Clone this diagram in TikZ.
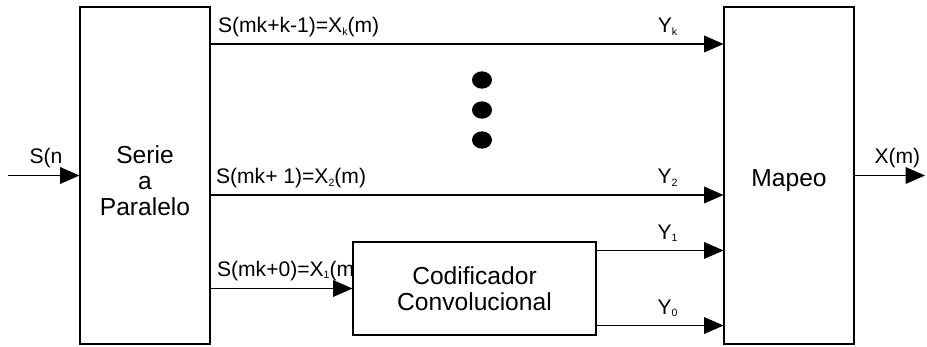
\documentclass[tikz,border=0pt]{standalone}
\usepackage{fontspec}
\setmainfont{Liberation Sans}
\usetikzlibrary{arrows.meta,calc,positioning}

\newcommand{\sub}[1]{\raisebox{-0.2ex}{\fontsize{9}{9}\selectfont #1}}

\begin{document}
\begin{tikzpicture}[x=0.03cm,y=-0.03cm,line width=0.9pt,
    >={Triangle[length=0.58cm,width=0.5cm]},
    font=\fontsize{18}{22}\selectfont,
    block/.style={draw,rectangle,align=center,inner sep=0pt,font=\fontsize{21}{22.5}\selectfont},
    blocktext/.style={align=center,inner sep=0pt,font=\fontsize{21}{22.5}\selectfont,yshift=-0.16cm},
    lbl/.style={inner sep=0pt,anchor=base west},
    ylbl/.style={inner sep=0pt,anchor=base}]
  \useasboundingbox (0,0) rectangle (927,347);
  % blocks
  \node[block,minimum width=3.9cm,minimum height=10.11cm,
        label={[blocktext]center:Serie\\a\\Paralelo}] (serie) at (145,175.5) {};
  \node[block,minimum width=3.9cm,minimum height=10.11cm,
        label={[blocktext]center:Mapeo}] (mapeo) at (789,175.5) {};
  \node[block,minimum width=7.29cm,minimum height=2.79cm] (coder) at (474.5,288.5) {Codificador\\Convolucional};
  % line heights
  \coordinate (yk) at (0,44);
  \coordinate (y2) at (0,195);
  \coordinate (c1) at ($(coder.north east)+(0,9)$);
  \coordinate (c0) at ($(coder.south east)+(0,-10)$);
  \coordinate (in) at (8,175.5);
  \coordinate (out) at (925,175.5);
  % connections
  \draw[->] (in) -- (serie.west);
  \draw[->] (mapeo.east) -- (out);
  \draw[->] (serie.east |- yk) -- (mapeo.west |- yk);
  \draw[->] (serie.east |- y2) -- (mapeo.west |- y2);
  \draw[->] (serie.east |- coder.west) -- (coder.west);
  \draw[->] (c1) -- (mapeo.west |- c1);
  \draw[->] (c0) -- (mapeo.west |- c0);
  % labels
  \node[lbl] (sn) at (29,164) {S(n};
  \node[lbl] (xm) at (874,164) {X(m)};
  \node[lbl] (xk) at ($(serie.east |- yk)+(7,-11)$) {S(mk+k-1)=X\sub{k}(m)};
  \node[lbl] (x2) at ($(serie.east |- y2)+(5,-11)$) {S(mk+ 1)=X\sub{2}(m)};
  \node[lbl] (x1) at ($(serie.east |- coder.west)+(6,-12)$) {S(mk+0)=X\sub{1}(m};
  \node[ylbl] (lyk) at ($(mapeo.west |- yk)+(-56,-11)$) {Y\sub{k}};
  \node[ylbl] (ly2) at ($(mapeo.west |- y2)+(-56,-11)$) {Y\sub{2}};
  \node[ylbl] (ly1) at ($(mapeo.west |- c1)+(-56,-11)$) {Y\sub{1}};
  \node[ylbl] (ly0) at ($(mapeo.west |- c0)+(-56,-11)$) {Y\sub{0}};
  % dots
  \foreach \yy in {80,110,140}
    \fill (482,\yy) ellipse [x radius=0.3cm, y radius=0.26cm];
\end{tikzpicture}
\end{document}
